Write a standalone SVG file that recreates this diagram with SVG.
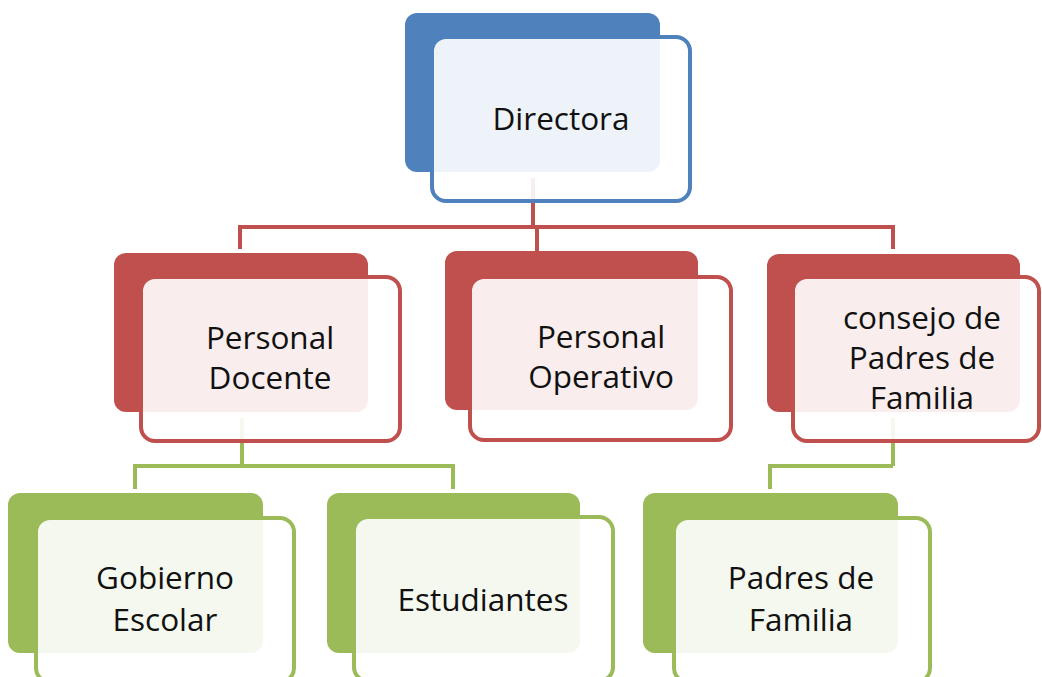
<svg xmlns="http://www.w3.org/2000/svg" width="1042" height="677" viewBox="0 0 1042 677">
<style>
.bg{fill:#ffffff}
.back{stroke:none}
.front{fill:#ffffff;fill-opacity:0.9;stroke-width:4}
.blue .back{fill:#4F81BD}.blue .front{stroke:#4F81BD}
.red .back{fill:#C0504D}.red .front{stroke:#C0504D}
.green .back{fill:#9BBB59}.green .front{stroke:#9BBB59}
.lbl{font-family:"Open Sans","Liberation Sans",sans-serif;font-size:31.5px;fill:#111111;text-anchor:middle}
.cr{fill:none;stroke:#C0504D;stroke-width:4}
.cg{fill:none;stroke:#9BBB59;stroke-width:4}
</style>
<rect class="bg" x="0" y="0" width="1042" height="677"/>
<g id="connectors">
<path class="cr" d="M533,178 V227"/>
<path class="cr" d="M240,249 V227 H893 V249"/>
<path class="cr" d="M537,225 V251"/>
<path class="cg" d="M242,418 V466"/>
<path class="cg" d="M135,489 V466 H453 V489"/>
<path class="cg" d="M893,418 V466"/>
<path class="cg" d="M770,489 V466 H893"/>
</g>
<g id="directora" class="blue">
<rect class="back" x="405" y="13" width="255" height="159" rx="12"/>
<rect class="front" x="432" y="37" width="258" height="164" rx="14"/>
<text class="lbl" x="561" y="130">Directora</text>
</g>
<g id="personal-docente" class="red">
<rect class="back" x="114" y="253" width="254" height="159" rx="12"/>
<rect class="front" x="141" y="277" width="259" height="164" rx="14"/>
<text class="lbl" x="270" y="349">Personal</text>
<text class="lbl" x="270" y="389">Docente</text>
</g>
<g id="personal-operativo" class="red">
<rect class="back" x="445" y="251" width="253" height="159" rx="12"/>
<rect class="front" x="470" y="277" width="261" height="163" rx="14"/>
<text class="lbl" x="601" y="348">Personal</text>
<text class="lbl" x="601" y="388">Operativo</text>
</g>
<g id="consejo" class="red">
<rect class="back" x="767" y="254" width="253" height="158" rx="12"/>
<rect class="front" x="793" y="277" width="246" height="164" rx="14"/>
<text class="lbl" x="922" y="329">consejo de</text>
<text class="lbl" x="922" y="369">Padres de</text>
<text class="lbl" x="922" y="409">Familia</text>
</g>
<g id="gobierno-escolar" class="green">
<rect class="back" x="8" y="493" width="255" height="160" rx="12"/>
<rect class="front" x="36" y="518" width="258" height="164" rx="14"/>
<text class="lbl" x="165" y="589">Gobierno</text>
<text class="lbl" x="165" y="631">Escolar</text>
</g>
<g id="estudiantes" class="green">
<rect class="back" x="327" y="493" width="253" height="160" rx="12"/>
<rect class="front" x="354" y="517" width="259" height="164" rx="14"/>
<text class="lbl" x="483" y="611">Estudiantes</text>
</g>
<g id="padres-de-familia" class="green">
<rect class="back" x="643" y="493" width="255" height="160" rx="12"/>
<rect class="front" x="674" y="518" width="256" height="164" rx="14"/>
<text class="lbl" x="801" y="589">Padres de</text>
<text class="lbl" x="801" y="631">Familia</text>
</g>
</svg>
